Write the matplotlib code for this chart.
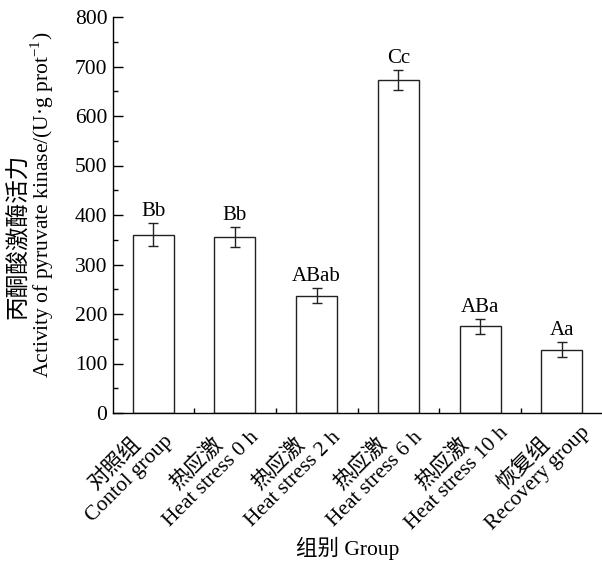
import matplotlib
matplotlib.use("Agg")
import matplotlib.pyplot as plt
import matplotlib.transforms as mtransforms
import numpy as np
from matplotlib.ticker import MultipleLocator, FixedLocator

plt.rcParams['font.family'] = ['Liberation Serif', 'Noto Sans CJK SC']
plt.rcParams['mathtext.fontset'] = 'custom'
plt.rcParams['mathtext.rm'] = 'Liberation Serif'

categories = ["对照组\nContol group", "热应激\nHeat stress 0 h", "热应激\nHeat stress 2 h",
              "热应激\nHeat stress 6 h", "热应激\nHeat stress 10 h", "恢复组\nRecovery group"]
values = [360, 355, 237, 673, 175, 128]
errors = [23, 20, 15, 20, 15, 15]
letters = ["Bb", "Bb", "ABab", "Cc", "ABa", "Aa"]

W, H = 602, 569
fig = plt.figure(figsize=(W / 100, H / 100), dpi=100)
ax = fig.add_axes([113 / W, 1 - 413 / H, (602 - 113) / W, (413 - 17) / H])

x = np.arange(len(values))
ax.bar(x, values, width=0.5, color='white', edgecolor='#222222', linewidth=1.0, zorder=2)
ax.errorbar(x, values, yerr=errors, fmt='none', ecolor='#222222', elinewidth=1.0,
            capsize=3.5, capthick=1.0, zorder=3)
for xi, v, e, t in zip(x, values, errors, letters):
    ax.annotate(t, (xi, v + e), xytext=(0, 5), textcoords='offset points',
                ha='center', va='baseline', fontsize=15)

ax.set_xlim(-0.49, 5.49)
ax.set_ylim(0, 800)
ax.spines['top'].set_visible(False)
ax.spines['right'].set_visible(False)
for s in ['left', 'bottom']:
    ax.spines[s].set_linewidth(1.0)

ax.yaxis.set_major_locator(MultipleLocator(100))
ax.yaxis.set_minor_locator(MultipleLocator(50))
ax.tick_params(axis='y', which='major', direction='in', length=7, width=1, labelsize=15.5, pad=4)
ax.tick_params(axis='y', which='minor', direction='in', length=3.5, width=1)

ax.set_xticks(x)
ax.set_xticklabels(categories, rotation=45, ha='center', va='center',
                   rotation_mode='anchor', multialignment='center', fontsize=15.5,
                   linespacing=1.1)
ax.xaxis.set_minor_locator(FixedLocator(x[:-1] + 0.5))
ax.tick_params(axis='x', which='major', length=0, pad=0)
ax.tick_params(axis='x', which='minor', direction='in', length=3.5, width=1)
shift = mtransforms.ScaledTranslation(-0.31, -0.58, fig.dpi_scale_trans)
for lab in ax.get_xticklabels():
    lab.set_transform(lab.get_transform() + shift)

fig.text(19 / W, 1 - 236 / H, "丙酮酸激酶活力", rotation=90, ha='center', va='center', fontsize=17)
fig.text(42 / W, 1 - 205 / H, "Activity of pyruvate kinase/(U·g prot$^{-1}$)", rotation=90,
         ha='center', va='center', fontsize=15.5)
fig.text(348 / W, 1 - 548 / H, "组别 Group", ha='center', va='center', fontsize=15.5)

fig.savefig("out.png", dpi=100)
